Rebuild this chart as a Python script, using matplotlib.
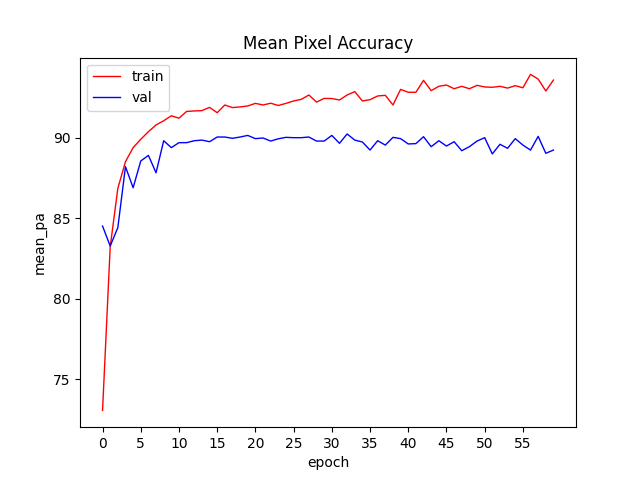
import numpy as np
import matplotlib
matplotlib.use("Agg")
import matplotlib.pyplot as plt

# mean pixel accuracy per epoch
train_pa = [73.05, 83.2, 86.84, 88.5, 89.37, 89.89, 90.36, 90.78, 91.04, 91.35,
            91.2, 91.62, 91.65, 91.67, 91.87, 91.54, 92.02, 91.86, 91.9, 91.96,
            92.12, 92.02, 92.13, 91.99, 92.12, 92.27, 92.37, 92.64, 92.2, 92.43,
            92.42, 92.33, 92.64, 92.85, 92.27, 92.35, 92.58, 92.62, 92.02, 92.99,
            92.81, 92.81, 93.55, 92.91, 93.18, 93.26, 93.03, 93.18, 93.03, 93.24,
            93.14, 93.12, 93.18, 93.07, 93.22, 93.09, 93.92, 93.63, 92.89, 93.57]
val_pa = [84.5, 83.26, 84.4, 88.19, 86.88, 88.54, 88.89, 87.81, 89.8, 89.37,
          89.68, 89.68, 89.8, 89.84, 89.74, 90.03, 90.03, 89.95, 90.03, 90.13,
          89.93, 89.97, 89.78, 89.92, 90.01, 89.99, 89.99, 90.03, 89.78, 89.78,
          90.13, 89.64, 90.22, 89.84, 89.72, 89.22, 89.8, 89.53, 90.01, 89.93,
          89.6, 89.62, 90.05, 89.43, 89.8, 89.47, 89.74, 89.18, 89.43, 89.78,
          89.99, 88.98, 89.58, 89.33, 89.93, 89.53, 89.22, 90.07, 89.02, 89.22]

epochs = np.arange(len(train_pa))

fig, ax = plt.subplots(figsize=(6.4, 4.8), dpi=100)
ax.plot(epochs, train_pa, color='red', linewidth=1, label='train')
ax.plot(epochs, val_pa, color='blue', linewidth=1, label='val')

ax.set_xticks(np.arange(0, 60, 5))
ax.set_title('Mean Pixel Accuracy')
ax.set_xlabel('epoch')
ax.set_ylabel('mean_pa')
ax.legend(loc='upper left')

fig.savefig('out.png', dpi=100)
